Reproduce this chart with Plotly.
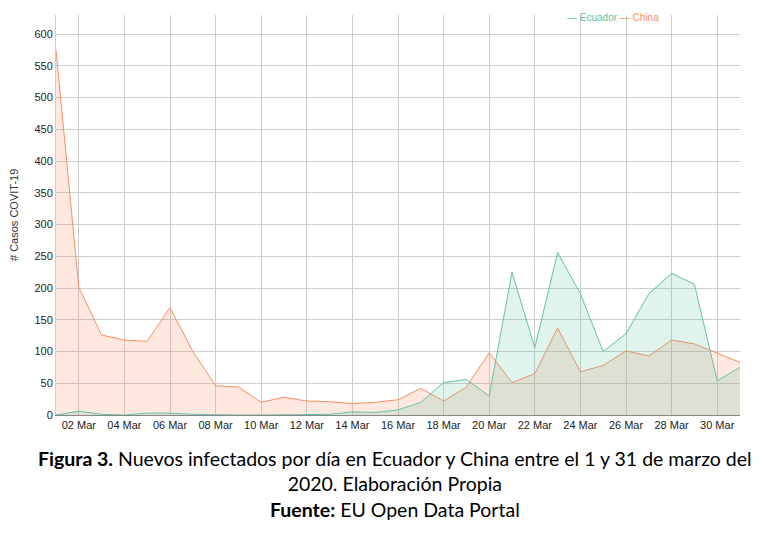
import plotly.graph_objects as go

dates = [f"2020-03-{d:02d}" for d in range(1, 32)]

ecuador = [0, 6, 1, 0, 3, 3, 1, 0, 0, 0, 0, 0, 1, 5, 4, 8, 20, 51, 56, 30,
           225, 106, 256, 191, 100, 128, 191, 223, 206, 54, 75]
china = [575, 201, 126, 118, 116, 169, 100, 46, 44, 20, 28, 22, 21, 18, 20, 24,
         42, 22, 44, 98, 51, 65, 137, 68, 78, 101, 93, 118, 112, 97, 83]

series_names = ["Ecuador", "China"]
series_colors = ["#66c2a5", "#fc8d62"]
fill_colors = ["rgba(102,194,165,0.2)", "rgba(252,141,98,0.2)"]

y_ticks = list(range(0, 601, 50))

fig = go.Figure()
for name, vals, col, fcol in [(series_names[1], china, series_colors[1], fill_colors[1]),
                              (series_names[0], ecuador, series_colors[0], fill_colors[0])]:
    fig.add_trace(go.Scatter(
        x=dates, y=vals, mode="lines", name=name,
        line=dict(color=col, width=1),
        fill="tozeroy", fillcolor=fcol, showlegend=False,
    ))

fig.update_xaxes(
    type="date", range=["2020-03-01", "2020-03-31"],
    tick0="2020-03-02", dtick=2 * 86400000, tickformat="%d %b",
    showgrid=True, gridcolor="#cccccc", gridwidth=1,
    showline=True, linecolor="#888888", linewidth=1,
    ticks="", ticklen=0, automargin=False,
    tickfont=dict(family="Liberation Sans, Arial", size=11, color="#222"),
    zeroline=False,
)
fig.update_yaxes(
    range=[0, 630], tickvals=y_ticks,
    showgrid=True, gridcolor="#cccccc", gridwidth=1,
    showline=True, linecolor="#cccccc", linewidth=1,
    zeroline=False, ticks="", automargin=False,
    tickfont=dict(family="Liberation Sans, Arial", size=11, color="#222"),
)

fig.add_annotation(xref="paper", yref="paper", x=-0.0614, y=0.5, xanchor="center",
                   yanchor="middle", textangle=-90, showarrow=False,
                   text="# Casos COVIT-19",
                   font=dict(family="Liberation Sans, Arial", size=11, color="#333"))

fig.add_annotation(xref="paper", yref="paper", x=0.814, y=0.9925, yanchor="middle",
                   xanchor="center", showarrow=False,
                   text=f'<span style="color:{series_colors[0]}">— {series_names[0]}</span> '
                        f'<span style="color:{series_colors[1]}">— {series_names[1]}</span>',
                   font=dict(family="Liberation Sans, Arial", size=10))

cap_font = dict(family="Lato, Open Sans", size=19.5, color="#000")
fig.add_annotation(xref="paper", yref="paper", x=0.495, xanchor="center",
                   y=-0.075, yanchor="top", showarrow=False, align="center",
                   text="<b>Figura 3.</b> Nuevos infectados por día en Ecuador y China entre el 1 y 31 de marzo del<br>"
                        "2020. Elaboración Propia<br><b>Fuente:</b> EU Open Data Portal",
                   font=cap_font)

fig.update_layout(
    width=766, height=533,
    margin=dict(l=48, r=34, t=7, b=126),
    plot_bgcolor="white", paper_bgcolor="white",
    showlegend=False,
)

fig.write_html("out.html")
